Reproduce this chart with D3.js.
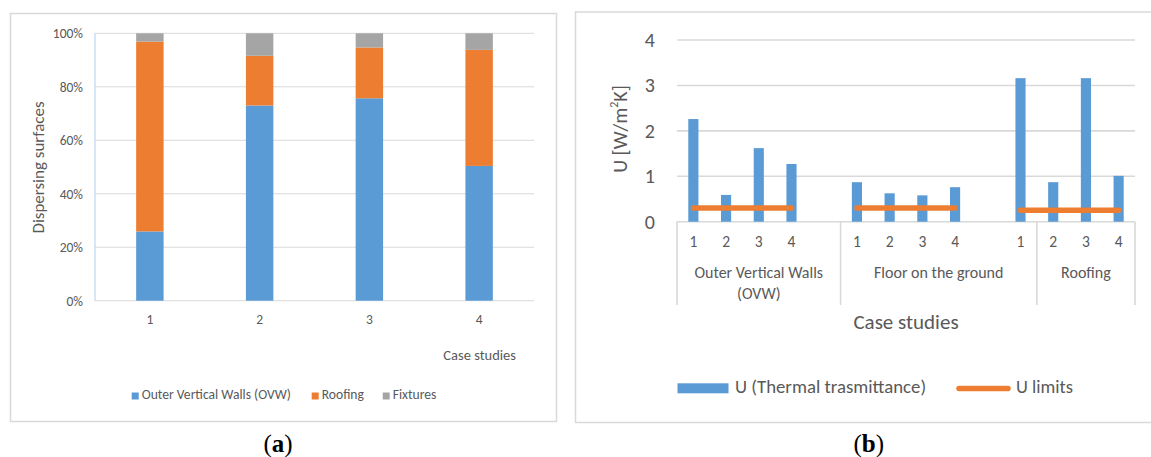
<!DOCTYPE html>
<html>
<head>
<meta charset="utf-8">
<script src="https://cdn.jsdelivr.net/npm/d3@7"></script>
<style>
  html, body { margin: 0; padding: 0; background: #fff; }
  svg { display: block; }
  text { font-family: Carlito, Lato, "Liberation Sans", sans-serif; fill: #595959; }
  .cap { font-family: "Liberation Serif", "DejaVu Serif", serif; fill: #000; }
</style>
</head>
<body>
<svg id="chart" width="1151" height="457"></svg>
<script>
// ---------- DATA ----------
// Panel (a): share of dispersing surfaces per case study
const caseStudies = ["1", "2", "3", "4"];
const seriesNames = ["Outer Vertical Walls (OVW)", "Roofing", "Fixtures"];
const ovwShare = [0.259, 0.730, 0.757, 0.504];
const roofingShare = [0.710, 0.186, 0.190, 0.434];
const fixturesShare = [0.031, 0.084, 0.053, 0.062];
const percentTicks = [0, 0.2, 0.4, 0.6, 0.8, 1.0];

// Panel (b): thermal transmittance per element and case study
const slotLabels = ["1", "2", "3", "4", "", "1", "2", "3", "4", "", "1", "2", "3", "4"];
const groupNames = [["Outer Vertical Walls", "(OVW)"], ["Floor on the ground"], ["Roofing"]];
const groupSpans = [5, 6, 3];
const uValues = [2.26, 0.59, 1.62, 1.27, null, 0.87, 0.625, 0.58, 0.76, null, 3.16, 0.87, 3.16, 1.01];
const uLimits = [0.30, 0.30, 0.30, 0.30, null, 0.30, 0.30, 0.30, 0.30, null, 0.25, 0.25, 0.25, 0.25];
const uTicks = [0, 1, 2, 3, 4];
const legendB = ["U (Thermal trasmittance)", "U limits"];

const colors = ["#5b9bd5", "#ed7d31", "#a5a5a5"];
const gridColor = "#d9d9d9";
const FONT = "Carlito, Lato, sans-serif";

const svg = d3.select("#chart");

// ================= PANEL (a) =================
const A = svg.append("g");
A.append("rect").attr("x", 10.5).attr("y", 13.5).attr("width", 546).attr("height", 408)
  .attr("fill", "none").attr("stroke", gridColor).attr("stroke-width", 1.5);

const xA = d3.scaleBand().domain(caseStudies).range([95, 534]).paddingInner(0.75).paddingOuter(0.375);
const yA = d3.scaleLinear().domain([0, 1]).range([300.7, 33.3]);

// gridlines
A.append("g").selectAll("line").data(percentTicks).join("line")
  .attr("x1", 95).attr("x2", 534)
  .attr("y1", d => yA(d)).attr("y2", d => yA(d))
  .attr("stroke", gridColor).attr("stroke-width", 1);

// y axis tick labels
const yAxisA = d3.axisLeft(yA).tickValues(percentTicks).tickFormat(d3.format(".0%")).tickSize(0).tickPadding(12);
const gyA = A.append("g").attr("transform", "translate(95,0)").call(yAxisA);
gyA.select(".domain").remove();
gyA.selectAll("text").attr("font-size", 13.5).attr("fill", "#595959").style("font-family", FONT);

// stacked bars
const tableA = caseStudies.map((c, i) => ({ c, ovw: ovwShare[i], roof: roofingShare[i], fix: fixturesShare[i] }));
const stackA = d3.stack().keys(["ovw", "roof", "fix"])(tableA);
A.append("g").selectAll("g").data(stackA).join("g")
  .attr("fill", (d, i) => colors[i])
  .selectAll("rect").data(d => d).join("rect")
  .attr("x", d => xA(d.data.c))
  .attr("width", xA.bandwidth())
  .attr("y", d => yA(d[1]))
  .attr("height", d => yA(d[0]) - yA(d[1]));

// y axis line (light blue)
A.append("line").attr("x1", 95).attr("x2", 95).attr("y1", yA(1)).attr("y2", yA(0))
  .attr("stroke", "#bdd7ee").attr("stroke-width", 1.2);

// x axis labels
const xAxisA = d3.axisBottom(xA).tickSize(0).tickPadding(14);
const gxA = A.append("g").attr("transform", `translate(0,${yA(0)})`).call(xAxisA);
gxA.select(".domain").remove();
gxA.selectAll("text").attr("font-size", 13.5).attr("fill", "#595959").style("font-family", FONT);

// axis titles
A.append("text").attr("transform", "translate(40,167.5) rotate(-90)")
  .attr("text-anchor", "middle").attr("dominant-baseline", "middle")
  .attr("font-size", 17).text("Dispersing surfaces");
A.append("text").attr("x", 516).attr("y", 357).attr("text-anchor", "end")
  .attr("dominant-baseline", "middle").attr("font-size", 14.5).text("Case studies");

// legend
const legA = [131.7, 311.7, 382.7];
seriesNames.forEach((name, i) => {
  const g = A.append("g").attr("transform", `translate(${legA[i]},396)`);
  g.append("rect").attr("x", 0).attr("y", -3.5).attr("width", 7).attr("height", 7).attr("fill", colors[i]);
  g.append("text").attr("x", 10).attr("y", 0).attr("dominant-baseline", "middle")
    .attr("font-size", 13.6).text(name);
});

// caption (a)
const capA = A.append("text").attr("class", "cap").attr("x", 278).attr("y", 452)
  .attr("text-anchor", "middle").attr("font-size", 25);
capA.append("tspan").text("(");
capA.append("tspan").attr("font-weight", "bold").text("a");
capA.append("tspan").text(")");

// ================= PANEL (b) =================
const B = svg.append("g");
B.append("path").attr("d", "M1152,12 H575.5 V422.5 H1152")
  .attr("fill", "none").attr("stroke", gridColor).attr("stroke-width", 1.5);

const slots = d3.range(slotLabels.length);
const xB = d3.scaleBand().domain(slots).range([677, 1135]).paddingInner(0.69).paddingOuter(0.345);
const yB = d3.scaleLinear().domain([0, 4]).range([221.7, 40]);
const step = xB.step();

// gridlines
B.append("g").selectAll("line").data(uTicks).join("line")
  .attr("x1", 677).attr("x2", 1135)
  .attr("y1", d => yB(d)).attr("y2", d => yB(d))
  .attr("stroke", gridColor).attr("stroke-width", 1.6);

// y tick labels
const yAxisB = d3.axisLeft(yB).tickValues(uTicks).tickFormat(d3.format("d")).tickSize(0).tickPadding(22);
const gyB = B.append("g").attr("transform", "translate(677,0)").call(yAxisB);
gyB.select(".domain").remove();
gyB.selectAll("text").attr("font-size", 20).attr("fill", "#595959").style("font-family", FONT);

// bars
B.append("g").selectAll("rect").data(slots.filter(i => uValues[i] != null)).join("rect")
  .attr("x", i => xB(i)).attr("width", xB.bandwidth())
  .attr("y", i => yB(uValues[i])).attr("height", i => yB(0) - yB(uValues[i]))
  .attr("fill", colors[0]);

// limit lines
const lineB = d3.line().defined(i => uLimits[i] != null)
  .x(i => xB(i) + xB.bandwidth() / 2).y(i => yB(uLimits[i]));
B.append("path").datum(slots).attr("d", lineB)
  .attr("fill", "none").attr("stroke", colors[1]).attr("stroke-width", 5.5)
  .attr("stroke-linecap", "round").attr("stroke-linejoin", "round");

// category axis: slot labels
B.append("g").selectAll("text").data(slots).join("text")
  .attr("x", i => xB(i) + xB.bandwidth() / 2).attr("y", 243.5)
  .attr("text-anchor", "middle").attr("dominant-baseline", "middle")
  .attr("font-size", 15.5).text(i => slotLabels[i]);

// group separators
const bounds = [0];
groupSpans.forEach(s => bounds.push(bounds[bounds.length - 1] + s));
B.append("g").selectAll("line").data(bounds).join("line")
  .attr("x1", b => 677 + b * step).attr("x2", b => 677 + b * step)
  .attr("y1", yB(0)).attr("y2", 305)
  .attr("stroke", gridColor).attr("stroke-width", 1.6);

// group labels
groupNames.forEach((lines, gi) => {
  const cx = 677 + (bounds[gi] + bounds[gi + 1]) / 2 * step;
  lines.forEach((ln, li) => {
    B.append("text").attr("x", cx).attr("y", 274.5 + li * 20.7)
      .attr("text-anchor", "middle").attr("dominant-baseline", "middle")
      .attr("font-size", 16).text(ln);
  });
});

// axis titles
B.append("text").attr("x", 906).attr("y", 323.5).attr("text-anchor", "middle")
  .attr("dominant-baseline", "middle").attr("font-size", 21).text("Case studies");
const yt = B.append("text").attr("transform", "translate(622,129) rotate(-90)")
  .attr("text-anchor", "middle").attr("dominant-baseline", "middle").attr("font-size", 20);
yt.append("tspan").text("U [W/m");
yt.append("tspan").attr("font-size", 12).attr("dy", -7).text("2");
yt.append("tspan").attr("dy", 7).text("K]");

// legend
B.append("rect").attr("x", 677.5).attr("y", 383.3).attr("width", 51).attr("height", 10).attr("fill", colors[0]);
B.append("text").attr("x", 735).attr("y", 388.5).attr("dominant-baseline", "middle")
  .attr("font-size", 18.8).text(legendB[0]);
B.append("line").attr("x1", 959).attr("x2", 1008).attr("y1", 388.5).attr("y2", 388.5)
  .attr("stroke", colors[1]).attr("stroke-width", 5.5).attr("stroke-linecap", "round");
B.append("text").attr("x", 1016).attr("y", 388.5).attr("dominant-baseline", "middle")
  .attr("font-size", 18.5).text(legendB[1]);

// caption (b)
const capB = B.append("text").attr("class", "cap").attr("x", 868.7).attr("y", 452)
  .attr("text-anchor", "middle").attr("font-size", 25);
capB.append("tspan").text("(");
capB.append("tspan").attr("font-weight", "bold").text("b");
capB.append("tspan").text(")");
</script>
</body>
</html>
